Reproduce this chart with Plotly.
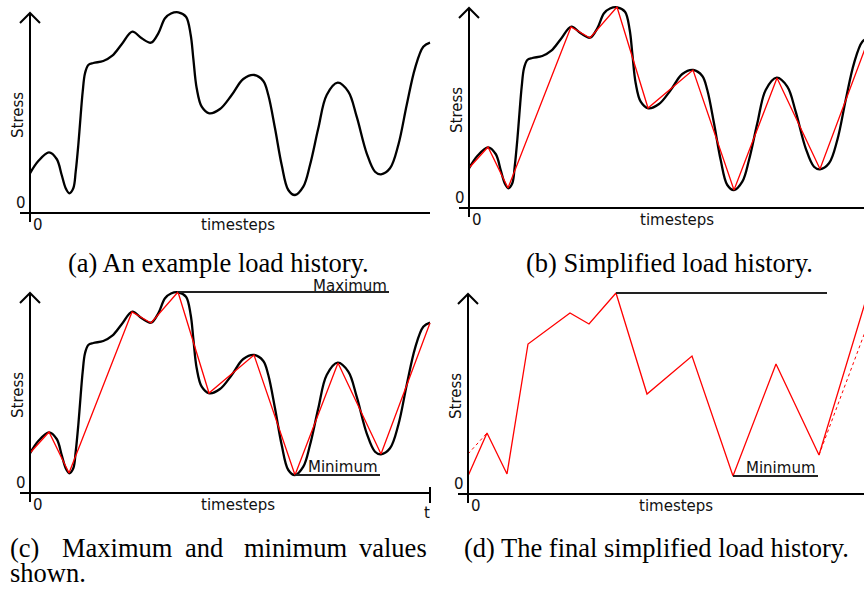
import plotly.graph_objects as go

W, H = 864, 589

# ---- data (time in px-units, stress in px-units) ----
# smooth load history (black curve)
load_t = [0, 8.3, 19, 26.7, 31.7, 35.7, 39.3, 43.3, 45.7, 48.3, 50.7, 52.7, 55, 58.3, 63.3,
          73.3, 82.3, 91.7, 102.3, 111.7, 121, 128.3, 135, 141, 148.3, 156, 160.7, 163.3,
          166.7, 171.7, 179.3, 190, 201.7, 213.3, 224.3, 233.3, 238.3, 245, 251.7, 258.3,
          265, 273.3, 280, 288.3, 296.7, 307.7, 318.3, 326.7, 336.7, 345, 351, 360, 368.3,
          376.7, 385, 393.3, 400]
load_s = [39.7, 52, 60.7, 54, 38, 24.7, 19.7, 24.7, 41.3, 68, 98, 121.3, 139.7, 148, 150,
          152, 157.3, 168.7, 181.3, 174.7, 170.3, 179.7, 194.7, 199.5, 200.7, 196.3, 178, 154.7,
          124.7, 106.3, 99.7, 104, 118, 134, 138, 132, 118, 84.7, 48, 23,
          18, 26.3, 48, 84.7, 118, 130.3, 121.3, 96.3, 59.7, 41.3, 38.7, 44.7, 68,
          108, 144.7, 166.3, 170.3]

# turning points (simplified load history, red)
turn_t = [0, 19, 39, 102, 121, 148, 179, 224, 265, 308, 351, 400]
turn_s = [40, 61, 20, 181, 170, 201, 100, 138, 18, 130, 39, 170]

# final simplified history (panel d): includes shoulder point, start at min, end at max
final_t = [0, 19, 39, 60, 102, 121, 148, 179, 224, 265, 308, 351, 400]
final_s = [min(turn_s), 61, 20, 150, 181, 170, 201, 100, 138, 18, 130, 39, max(turn_s)]

i_max = turn_s.index(max(turn_s))
i_min = turn_s.index(min(turn_s))
MAX_END, MIN_END = 359, 350

# ---- panel geometry (pixels) ----
panels = {
    "a": dict(px=(0, 432), py=(0, 240), o=(30, 213), xend=400),
    "b": dict(px=(432, 864), py=(0, 240), o=(469, 208), xend=430),
    "c": dict(px=(0, 432), py=(278, 532), o=(30, 493), xend=400),
    "d": dict(px=(432, 864), py=(278, 532), o=(468, 494), xend=430),
}
names = {"a": "", "b": "2", "c": "3", "d": "4"}

fig = go.Figure()
layout = dict(width=W, height=H, margin=dict(l=0, r=0, t=0, b=0),
              paper_bgcolor="white", plot_bgcolor="white", showlegend=False)
shapes, annotations = [], []
LAB = dict(family="DejaVu Sans", size=15, color="#111")

for key, p in panels.items():
    n = names[key]
    ox, oy = p["o"]
    layout["xaxis" + n] = dict(domain=[p["px"][0] / W, p["px"][1] / W],
                               range=[p["px"][0] - ox, p["px"][1] - ox],
                               visible=False, fixedrange=True, anchor="y" + n)
    layout["yaxis" + n] = dict(domain=[1 - p["py"][1] / H, 1 - p["py"][0] / H],
                               range=[oy - p["py"][1], oy - p["py"][0]],
                               visible=False, fixedrange=True, anchor="x" + n)
    xr, yr = "x" + n, "y" + n
    # axes
    shapes.append(dict(type="line", xref=xr, yref=yr, x0=0, x1=0, y0=-9, y1=200,
                       line=dict(color="black", width=2)))
    shapes.append(dict(type="path", xref=xr, yref=yr, path="M -10,190 L 0,200 L 10,190",
                       line=dict(color="black", width=2)))
    shapes.append(dict(type="line", xref=xr, yref=yr, x0=-10, x1=p["xend"], y0=0, y1=0,
                       line=dict(color="black", width=2)))
    if key == "c":
        shapes.append(dict(type="line", xref=xr, yref=yr, x0=400, x1=400, y0=-10, y1=6,
                           line=dict(color="black", width=2)))
        annotations.append(dict(xref=xr, yref=yr, x=397, y=-20, text="t", showarrow=False,
                                font=LAB))
    annotations += [
        dict(xref=xr, yref=yr, x=-9, y=10, text="0", showarrow=False, font=LAB),
        dict(xref=xr, yref=yr, x=8, y=-12, text="0", showarrow=False, font=LAB),
        dict(xref=xr, yref=yr, x=208, y=-12, text="timesteps", showarrow=False, font=LAB),
        dict(xref=xr, yref=yr, x=-12, y=98, text="Stress", textangle=-90, showarrow=False,
             font=LAB),
    ]

    if key in ("a", "b", "c"):
        fig.add_trace(go.Scatter(x=load_t, y=load_s, mode="lines", xaxis=xr, yaxis=yr,
                                 line=dict(color="black", width=2.3, shape="spline",
                                           smoothing=1.0), hoverinfo="skip"))
    if key in ("b", "c"):
        fig.add_trace(go.Scatter(x=turn_t, y=turn_s, mode="lines", xaxis=xr, yaxis=yr,
                                 line=dict(color="red", width=1.3), hoverinfo="skip"))
    if key == "d":
        fig.add_trace(go.Scatter(x=turn_t[:2], y=turn_s[:2], mode="lines", xaxis=xr, yaxis=yr,
                                 line=dict(color="red", width=1, dash="dot"), hoverinfo="skip"))
        fig.add_trace(go.Scatter(x=turn_t[-2:], y=turn_s[-2:], mode="lines", xaxis=xr, yaxis=yr,
                                 line=dict(color="red", width=1, dash="dot"), hoverinfo="skip"))
        fig.add_trace(go.Scatter(x=final_t, y=final_s, mode="lines", xaxis=xr, yaxis=yr,
                                 line=dict(color="red", width=1.3), hoverinfo="skip"))
    if key in ("c", "d"):
        fig.add_trace(go.Scatter(x=[turn_t[i_max], MAX_END], y=[turn_s[i_max]] * 2, mode="lines",
                                 xaxis=xr, yaxis=yr, line=dict(color="#222", width=1.8),
                                 hoverinfo="skip"))
        fig.add_trace(go.Scatter(x=[turn_t[i_min], MIN_END], y=[turn_s[i_min]] * 2, mode="lines",
                                 xaxis=xr, yaxis=yr, line=dict(color="#222", width=1.8),
                                 hoverinfo="skip"))
        annotations.append(dict(xref=xr, yref=yr, x=MIN_END, y=turn_s[i_min], text="Minimum",
                                xanchor="right", yanchor="middle", yshift=8, showarrow=False,
                                font=LAB))
        if key == "c":
            annotations.append(dict(xref=xr, yref=yr, x=MAX_END, y=turn_s[i_max], text="Maximum",
                                    xanchor="right", yanchor="middle", yshift=6, showarrow=False,
                                    font=LAB))

# ---- captions ----
CAP = dict(family="Liberation Serif", size=26.5, color="black")
def cap(text, x, y, anchor="center"):
    annotations.append(dict(xref="paper", yref="paper", x=x / W, y=1 - y / H, text=text,
                            xanchor=anchor, yanchor="middle", showarrow=False, font=CAP))

cap("(a) An example load history.", 218, 263)
cap("(b) Simplified load history.", 669, 263)
for word, x in [("(c)", 8), ("Maximum", 60), ("and", 183), ("minimum", 242), ("values", 357)]:
    cap(word, x, 548, "left")
cap("shown.", 8, 573, "left")
cap("(d) The final simplified load history.", 462, 548, "left")

layout["shapes"] = shapes
layout["annotations"] = annotations
fig.update_layout(**layout)
fig.write_html("out.html")
